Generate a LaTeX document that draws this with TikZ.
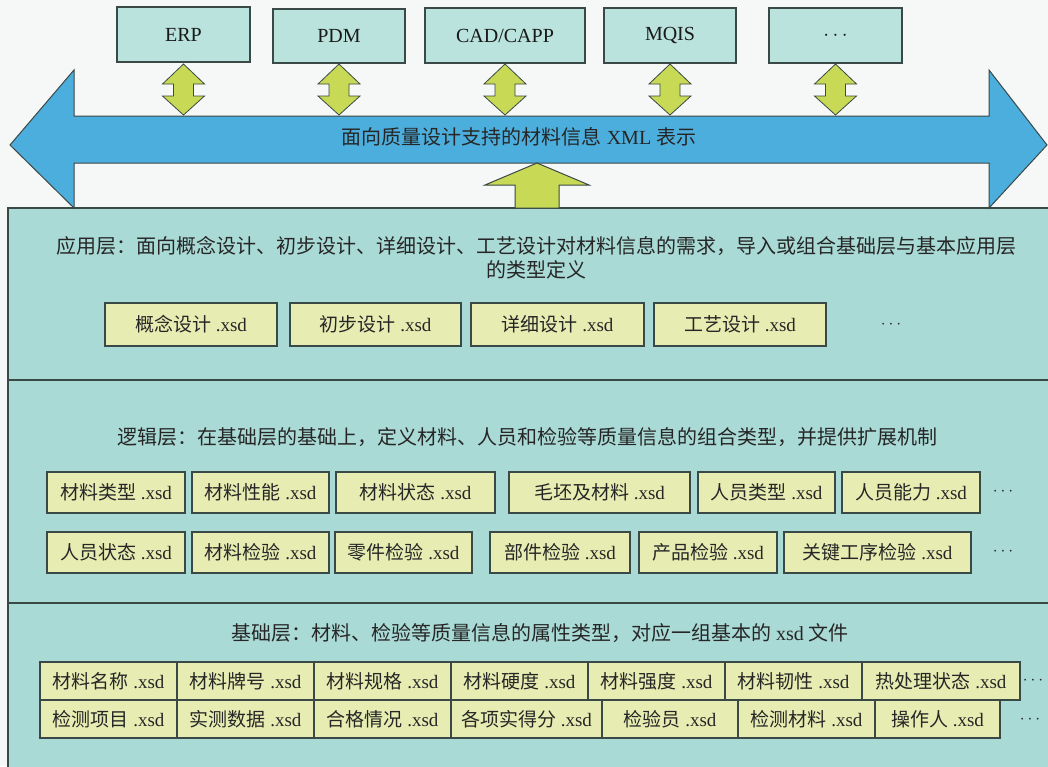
\documentclass[tikz,border=0pt]{standalone}
\usepackage{fontspec}
\setmainfont{Liberation Serif}
\newfontfamily\cjk{Noto Sans CJK SC}
\definecolor{bgc}{HTML}{F5F8F7}
\definecolor{panelc}{HTML}{A9DAD6}
\definecolor{topc}{HTML}{B9E3DC}
\definecolor{yboxc}{HTML}{E7EDB2}
\definecolor{ygreen}{HTML}{C8DA55}
\definecolor{arrowblue}{HTML}{4CAEDC}
\definecolor{edgec}{HTML}{3A4846}
\newcommand\xs[1]{{\cjk #1} .xsd}
\newcommand\ybx[6]{\node[yboxstyle,minimum width=#4pt-#2pt,minimum height=#5pt-#3pt] (#1) at ({(#2+#4)/2},{(#3+#5)/2}) {#6};}
\newcommand\tbx[6]{\node[topstyle,minimum width=#4pt-#2pt,minimum height=#5pt-#3pt] (#1) at ({(#2+#4)/2},{(#3+#5)/2}) {#6};}
\tikzset{
  yboxstyle/.style={draw=edgec,line width=1.2pt,fill=yboxc,inner sep=0pt,font=\fontsize{19}{22}\selectfont,text=black!85},
  topstyle/.style={draw=edgec,line width=1.2pt,fill=topc,inner sep=0pt,font=\fontsize{20}{24}\selectfont,text=black!90},
  paneltext/.style={font=\cjk\fontsize{20}{24}\selectfont,text=black!85,inner sep=0pt},
  dotsstyle/.style={inner sep=0pt,text=black!85,font=\fontsize{19}{22}\selectfont},
  dbl/.pic={\filldraw[fill=ygreen,draw=edgec,line width=0.8pt] (0,0) -- (21,20) -- (10,20) -- (10,32) -- (21,32) -- (0,51) -- (-21,32) -- (-10,32) -- (-10,20) -- (-21,20) -- cycle;}
}
\begin{document}
\begin{tikzpicture}[x=1pt,y=-1pt]
\useasboundingbox (0,0) rectangle (1048,766);
\fill[bgc] (0,0) rectangle (1048,766);
% panels
\filldraw[fill=panelc,draw=edgec,line width=1.2pt] (8,208) rectangle (1056,380);
\filldraw[fill=panelc,draw=edgec,line width=1.2pt] (8,380) rectangle (1056,603);
\filldraw[fill=panelc,draw=edgec,line width=1.2pt] (8,603) rectangle (1056,772);
% big arrow
\filldraw[fill=arrowblue,draw=edgec,line width=1pt] (10,145) -- (74,70) -- (74,116) -- (989,116) -- (989,70) -- (1047,145) -- (989,208) -- (989,163) -- (74,163) -- (74,208) -- cycle;
\node[inner sep=0pt,text=black!85,font=\fontsize{20}{24}\selectfont] (xml) at (519,137) {{\cjk 面向质量设计支持的材料信息} XML {\cjk 表示}};
% up arrow
\filldraw[fill=ygreen,draw=edgec,line width=1pt] (537,163) -- (589,185) -- (559,185) -- (559,208) -- (515,208) -- (515,185) -- (485,185) -- cycle;
% top boxes
\tbx{erp}{117}{7}{250}{62}{ERP}
\tbx{pdm}{273}{9}{405}{63}{PDM}
\tbx{cad}{425}{8}{585}{63}{CAD/CAPP}
\tbx{mqis}{604}{8}{736}{63}{MQIS}
\tbx{more}{769}{8}{902}{63}{$\cdots$}
\coordinate (lvl) at (0,64);
\pic at (erp.south |- lvl) {dbl};
\pic at (pdm.south |- lvl) {dbl};
\pic at (cad.south |- lvl) {dbl};
\pic at (mqis.south |- lvl) {dbl};
\pic at (more.south |- lvl) {dbl};
% application layer
\node[paneltext,align=center] (apptext) at (536,258) {应用层：面向概念设计、初步设计、详细设计、工艺设计对材料信息的需求，导入或组合基础层与基本应用层\\的类型定义};
\ybx{a1}{105}{303}{277}{346}{\xs{概念设计}}
\ybx{a2}{290}{303}{461}{346}{\xs{初步设计}}
\ybx{a3}{471}{303}{644}{346}{\xs{详细设计}}
\ybx{a4}{654}{303}{826}{346}{\xs{工艺设计}}
\node[dotsstyle] (adots) at (891,325) {$\cdots$};
% logic layer
\node[paneltext] (logtext) at (527,437) {逻辑层：在基础层的基础上，定义材料、人员和检验等质量信息的组合类型，并提供扩展机制};
\ybx{l1}{47}{472}{185}{513}{\xs{材料类型}}
\ybx{l2}{192}{472}{329}{513}{\xs{材料性能}}
\ybx{l3}{336}{472}{495}{513}{\xs{材料状态}}
\ybx{l4}{509}{472}{690}{513}{\xs{毛坯及材料}}
\ybx{l5}{698}{472}{835}{513}{\xs{人员类型}}
\ybx{l6}{842}{472}{980}{513}{\xs{人员能力}}
\node[dotsstyle] (ldots1) at (1003,492) {$\cdots$};
\ybx{m1}{47}{532}{185}{573}{\xs{人员状态}}
\ybx{m2}{192}{532}{329}{573}{\xs{材料检验}}
\ybx{m3}{335}{532}{472}{573}{\xs{零件检验}}
\ybx{m4}{490}{532}{630}{573}{\xs{部件检验}}
\ybx{m5}{639}{532}{777}{573}{\xs{产品检验}}
\ybx{m6}{784}{532}{971}{573}{\xs{关键工序检验}}
\node[dotsstyle] (ldots2) at (1003,552) {$\cdots$};
% base layer
\node[paneltext] (basetext) at (540,633) {基础层：材料、检验等质量信息的属性类型，对应一组基本的 {\rmfamily xsd} 文件};
\ybx{b1}{40}{662}{177}{700}{\xs{材料名称}}
\ybx{b2}{177}{662}{314}{700}{\xs{材料牌号}}
\ybx{b3}{314}{662}{451}{700}{\xs{材料规格}}
\ybx{b4}{451}{662}{588}{700}{\xs{材料硬度}}
\ybx{b5}{588}{662}{725}{700}{\xs{材料强度}}
\ybx{b6}{725}{662}{862}{700}{\xs{材料韧性}}
\ybx{b7}{862}{662}{1020}{700}{\xs{热处理状态}}
\node[dotsstyle] (bdots1) at (1033,681) {$\cdots$};
\ybx{c1}{40}{700}{177}{738}{\xs{检测项目}}
\ybx{c2}{177}{700}{314}{738}{\xs{实测数据}}
\ybx{c3}{314}{700}{451}{738}{\xs{合格情况}}
\ybx{c4}{451}{700}{602}{738}{\xs{各项实得分}}
\ybx{c5}{602}{700}{738}{738}{\xs{检验员}}
\ybx{c6}{738}{700}{875}{738}{\xs{检测材料}}
\ybx{c7}{875}{700}{1000}{738}{\xs{操作人}}
\node[dotsstyle] (bdots2) at (1030,720) {$\cdots$};
\end{tikzpicture}
\end{document}
